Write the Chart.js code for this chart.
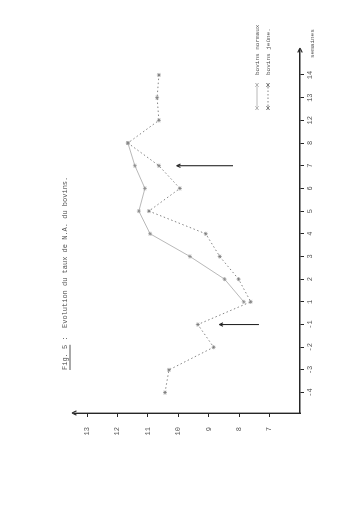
<!DOCTYPE html>
<html>
<head>
<meta charset="utf-8">
<script src="https://cdn.jsdelivr.net/npm/chart.js@4.4.0/dist/chart.umd.min.js"></script>
<style>
  html, body { margin: 0; padding: 0; background: #fff; overflow: hidden; }
  #wrap { position: relative; width: 361px; height: 512px; }
  /* the scan is printed sideways: draw landscape, then turn it a quarter left */
  #c { position: absolute; left: 0; top: 0; width: 512px; height: 361px;
       transform-origin: 0 0; transform: translate(0, 512px) rotate(-90deg); }
</style>
</head>
<body>
<div id="wrap"><canvas id="c" width="512" height="361"></canvas></div>
<script>
// weeks (category labels, evenly spaced)
const weeks = ['-4', '-3', '-2', '-1', '1', '2', '3', '4', '5', '6', '7', '8', '12', '13', '14'];
// bovins normaux (solid line)
const normaux = [null, null, null, null, 7.85, 8.48, 9.62, 10.93, 11.30, 11.10, 11.43, 11.66, null, null, null];
// bovins à jeun (dashed line)
const jeune = [10.44, 10.31, 8.84, 9.36, 7.62, 8.02, 8.64, 9.10, 10.97, 9.95, 10.64, 11.66, 10.64, 10.70, 10.64];
// value ticks
const valueTicks = [7, 8, 9, 10, 11, 12, 13];

const title = 'Fig. 5 :  Evolution du taux de N.A. du bovins.';
const legendLabels = ['bovins normaux', 'bovins jeûne.'];
// annotation arrows: week index, value at tail, value at head
const arrows = [
  { week: 10, from: 8.2, to: 10.05 },
  { week: 3, from: 7.35, to: 8.65 }
];

const ink = '#262626';
const txt = '#555';
const colA = '#b0b0b0';
const colB = '#777';
const mono = '"Liberation Mono", "DejaVu Sans Mono", monospace';

function toPoints(arr) {
  return arr.map((v, i) => ({ x: i, y: v }));
}

function head(ctx, x, y, ang, len) {
  ctx.beginPath();
  ctx.moveTo(x, y);
  ctx.lineTo(x - len * Math.cos(ang - 0.45), y - len * Math.sin(ang - 0.45));
  ctx.moveTo(x, y);
  ctx.lineTo(x - len * Math.cos(ang + 0.45), y - len * Math.sin(ang + 0.45));
  ctx.stroke();
}

function star(ctx, x, y, r) {
  ctx.beginPath();
  ctx.moveTo(x - r, y - r); ctx.lineTo(x + r, y + r);
  ctx.moveTo(x - r, y + r); ctx.lineTo(x + r, y - r);
  ctx.moveTo(x - r, y); ctx.lineTo(x + r, y);
  ctx.stroke();
}

const extras = {
  id: 'extras',
  afterDraw(chart) {
    const { ctx, chartArea: a, scales } = chart;
    const xs = scales.x, ys = scales.y;
    ctx.save();
    ctx.strokeStyle = ink;
    ctx.fillStyle = txt;
    ctx.lineWidth = 1.1;

    // axis arrow heads
    head(ctx, a.right + 2, a.bottom, 0, 5);
    head(ctx, a.left, a.top - 3, -Math.PI / 2, 5);

    ctx.font = '6px ' + mono;
    ctx.textBaseline = 'middle';
    ctx.textAlign = 'left';
    ctx.fillText('semaines', a.right - 8, a.bottom + 12);

    // title, underlined figure number
    ctx.font = '7px ' + mono;
    ctx.fillText(title, a.left + 43, a.top - 10);
    const w = ctx.measureText('Fig. 5').width;
    ctx.lineWidth = 0.8;
    ctx.beginPath();
    ctx.moveTo(a.left + 43, a.top - 5);
    ctx.lineTo(a.left + 43 + w, a.top - 5);
    ctx.stroke();

    // legend
    ctx.font = '6px ' + mono;
    const rows = [a.bottom - 43, a.bottom - 32];
    rows.forEach((ry, i) => {
      ctx.strokeStyle = i === 0 ? colA : colB;
      ctx.lineWidth = 0.9;
      ctx.setLineDash(i === 0 ? [] : [1.5, 2]);
      ctx.beginPath();
      ctx.moveTo(a.right - 56, ry);
      ctx.lineTo(a.right - 37, ry);
      ctx.stroke();
      ctx.setLineDash([]);
      star(ctx, a.right - 58, ry, 1.8);
      star(ctx, a.right - 35, ry, 1.8);
      ctx.fillText(legendLabels[i], a.right - 25, ry);
    });

    // annotation arrows
    ctx.strokeStyle = ink;
    ctx.lineWidth = 1.1;
    arrows.forEach(ar => {
      const px = xs.getPixelForValue(ar.week);
      const y0 = ys.getPixelForValue(ar.from);
      const y1 = ys.getPixelForValue(ar.to);
      ctx.beginPath();
      ctx.moveTo(px, y0);
      ctx.lineTo(px, y1);
      ctx.stroke();
      head(ctx, px, y1, -Math.PI / 2, 4);
    });
    ctx.restore();
  }
};

new Chart(document.getElementById('c'), {
  type: 'line',
  data: {
    datasets: [
      {
        label: legendLabels[0],
        data: toPoints(normaux),
        borderColor: colA,
        borderWidth: 0.9,
        pointStyle: 'star',
        pointRadius: 2,
        pointBorderColor: '#888',
        pointBorderWidth: 0.7,
        spanGaps: false
      },
      {
        label: legendLabels[1],
        data: toPoints(jeune),
        borderColor: colB,
        borderWidth: 0.9,
        borderDash: [1.5, 2.5],
        pointStyle: 'star',
        pointRadius: 2,
        pointBorderColor: '#777',
        pointBorderWidth: 0.7,
        spanGaps: false
      }
    ]
  },
  options: {
    responsive: false,
    animation: false,
    layout: { padding: { left: 69, right: 50, top: 75, bottom: 36 } },
    plugins: { legend: { display: false }, title: { display: false }, tooltip: { enabled: false } },
    scales: {
      x: {
        type: 'linear',
        min: -0.9,
        max: 15.1,
        afterBuildTicks: s => { s.ticks = weeks.map((_, i) => ({ value: i })); },
        afterFit: s => { s.height = 25; },
        ticks: {
          callback: v => weeks[v] ?? '',
          color: txt,
          font: { family: mono, size: 7 },
          maxRotation: 0,
          autoSkip: false,
          padding: 2
        },
        grid: { drawOnChartArea: false, color: ink, tickLength: 4 },
        border: { color: ink, width: 1.4 }
      },
      y: {
        min: 6,
        max: 13.4,
        afterBuildTicks: s => { s.ticks = valueTicks.map(v => ({ value: v })); },
        afterFit: s => { s.width = 30; },
        ticks: {
          color: txt,
          font: { family: mono, size: 7 },
          padding: 10
        },
        grid: { drawOnChartArea: false, color: ink, tickLength: 4 },
        border: { color: ink, width: 1.4 }
      }
    }
  },
  plugins: [extras]
});
</script>
</body>
</html>
